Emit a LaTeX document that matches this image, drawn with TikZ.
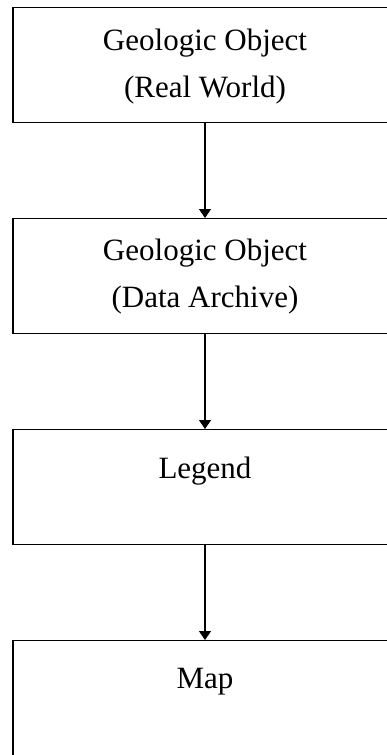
\documentclass[tikz,border=0pt]{standalone}
\usepackage{fontspec}
\setmainfont{Liberation Serif}
\usetikzlibrary{arrows.meta}
\begin{document}
\begin{tikzpicture}[x=1pt,y=-1pt,
  box/.style={draw=black,line width=1.3pt,rectangle,minimum width=384pt,minimum height=115pt,anchor=north,inner sep=0pt},
  lbl/.style={anchor=base,inner sep=0pt,font=\fontsize{31}{37}\selectfont},
  conn/.style={line width=1.3pt,-{Triangle[width=12pt,length=9pt]}}]
\useasboundingbox (0,0) rectangle (387,755);
\clip (0,0) rectangle (387,755);
\node[box] (b1) at (205,7) {};
\node[box] (b2) at (205,218) {};
\node[box] (b3) at (205,429) {};
\node[box] (b4) at (205,640) {};
\node[lbl] (t1a) at (205,50) {Geologic Object};
\node[lbl] (t1b) at (205,97) {(Real World)};
\node[lbl] (t2a) at (205,260) {Geologic Object};
\node[lbl] (t2b) at (205,307) {(Data Archive)};
\node[lbl] (t3) at (205,478) {Legend};
\node[lbl] (t4) at (205,688) {Map};
\draw[conn] (b1.south) -- (b2.north);
\draw[conn] (b2.south) -- (b3.north);
\draw[conn] (b3.south) -- (b4.north);
\end{tikzpicture}
\end{document}
